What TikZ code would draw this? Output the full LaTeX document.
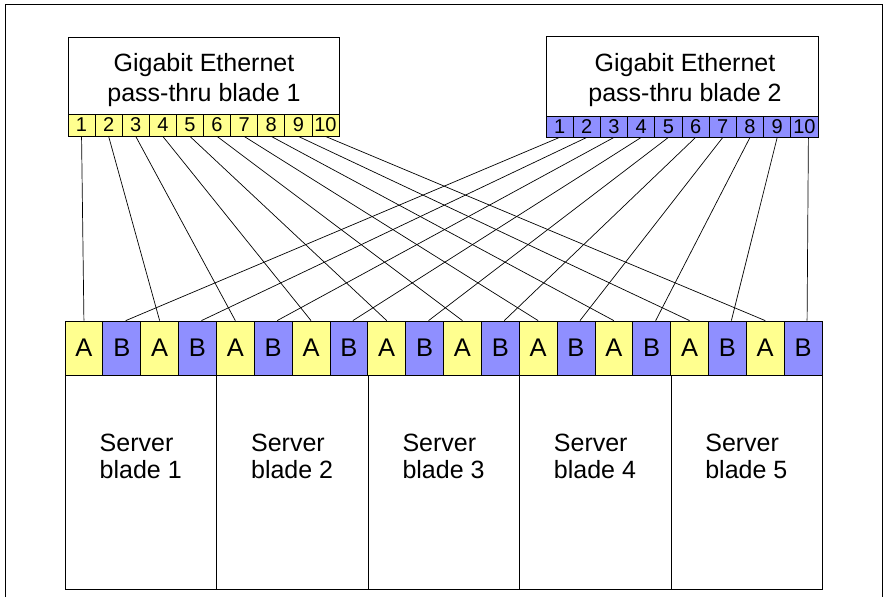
\documentclass[tikz,border=0pt]{standalone}
\usepackage{fontspec}
\setmainfont{Liberation Sans}
\definecolor{py}{RGB}{255,255,143}
\definecolor{pb}{RGB}{143,143,255}
\begin{document}
\begin{tikzpicture}[x=1pt,y=-1pt,line width=0.8pt,
  port/.style={draw,minimum width=27.1pt,minimum height=22pt,inner sep=0pt,font=\fontsize{20}{20}\selectfont},
  slot/.style={draw,minimum width=37.85pt,minimum height=54pt,inner sep=0pt,font=\fontsize{25.5}{25}\selectfont},
  frame/.style={draw,inner sep=0pt,anchor=north west},
  title/.style={align=center,font=\fontsize{25}{30}\selectfont},
  srvtext/.style={anchor=west,align=left,font=\fontsize{25}{27}\selectfont},
  wire/.style={line width=0.7pt}]
\useasboundingbox (0,0) rectangle (886,597);
\draw (5,597) -- (5,4.5) -- (882,4.5) -- (882,597);
% pass-thru blades
\node[frame,minimum width=271pt,minimum height=99pt] (g1) at (68,37) {};
\node[title] (t1) at (204,80) {Gigabit Ethernet\\pass-thru blade 1};
\node[frame,minimum width=272pt,minimum height=101pt] (g2) at (546,36) {};
\node[title] (t2) at (685,80) {Gigabit Ethernet\\pass-thru blade 2};
\foreach \i in {1,...,10} {
  \node[port,fill=py] (p1-\i) at ({68+27.1*(\i-0.5)},125) {\i};
  \node[port,fill=pb,minimum width=27.2pt,minimum height=21pt] (p2-\i) at ({546+27.2*(\i-0.5)},126.5) {\i};
}
% slots
\foreach \j in {1,...,10} {
  \node[slot,fill=py] (sa\j) at ({65+37.85*(2*\j-1.5)},348) {A};
  \node[slot,fill=pb] (sb\j) at ({65+37.85*(2*\j-0.5)},348) {B};
}
% server blades
\foreach \s in {1,...,5} {
  \node[frame,minimum width=151.4pt,minimum height=214pt] (sv\s) at ({65+151.4*(\s-1)},375) {};
  \node[srvtext] (st\s) at ({65+151.4*(\s-1)+31},456) {Server\\blade \s};
}
% wires
\foreach \j in {1,...,10} {
  \draw[wire] (p1-\j.south) -- (sa\j.north);
}
\foreach \j in {1,...,9} {
  \draw[wire] (p2-\j.south) -- ([xshift=4pt]sb\j.north);
}
\draw[wire] ([xshift=4pt]p2-10.south) -- ([xshift=4pt]sb10.north);
\end{tikzpicture}
\end{document}
